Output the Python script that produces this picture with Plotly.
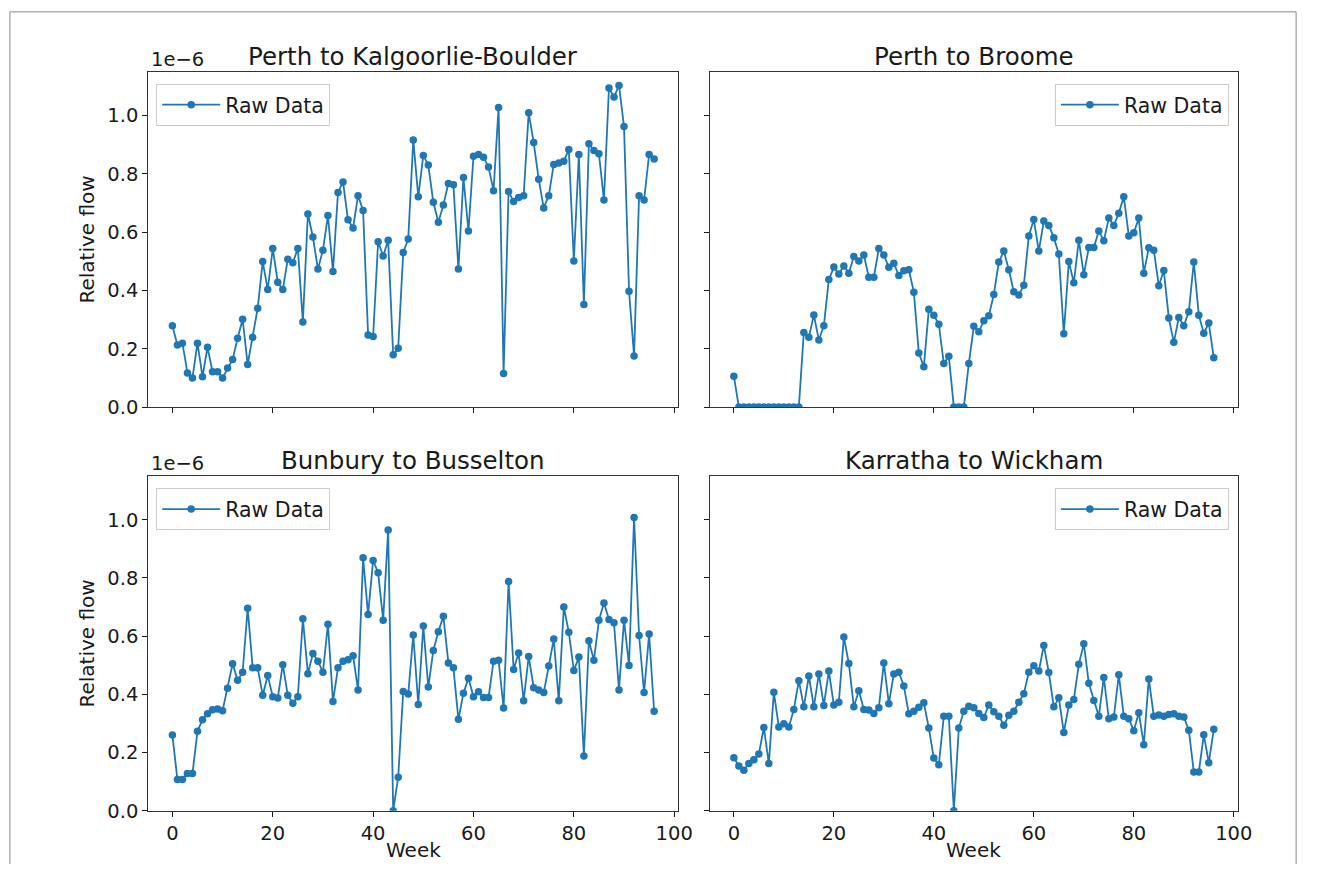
import plotly.graph_objects as go

# Weekly relative flow between town pairs (values in units of 1e-6)
weeks = list(range(97))

perth_kalgoorlie = [
    0.279, 0.213, 0.219, 0.117, 0.100, 0.219, 0.104, 0.205, 0.121, 0.121,
    0.100, 0.134, 0.163, 0.236, 0.301, 0.146, 0.239, 0.339, 0.499, 0.403,
    0.544, 0.428, 0.403, 0.507, 0.495, 0.544, 0.292, 0.662, 0.583, 0.473,
    0.538, 0.657, 0.465, 0.736, 0.772, 0.642, 0.614, 0.725, 0.674, 0.247,
    0.242, 0.567, 0.518, 0.572, 0.179, 0.202, 0.530, 0.576, 0.916, 0.721,
    0.863, 0.830, 0.702, 0.634, 0.693, 0.767, 0.762, 0.473, 0.787, 0.604,
    0.860, 0.866, 0.857, 0.823, 0.742, 1.027, 0.115, 0.739, 0.705, 0.719,
    0.725, 1.009, 0.907, 0.781, 0.683, 0.725, 0.832, 0.837, 0.843, 0.883,
    0.501, 0.866, 0.352, 0.903, 0.880, 0.869, 0.710, 1.094, 1.063, 1.103,
    0.962, 0.397, 0.175, 0.725, 0.710, 0.866, 0.851,
]

perth_broome = [
    0.106, 0.0, 0.0, 0.0, 0.0, 0.0, 0.0, 0.0, 0.0, 0.0,
    0.0, 0.0, 0.0, 0.0, 0.256, 0.239, 0.316, 0.230, 0.279, 0.437,
    0.480, 0.456, 0.484, 0.459, 0.516, 0.501, 0.521, 0.445, 0.445, 0.544,
    0.521, 0.479, 0.493, 0.451, 0.467, 0.471, 0.394, 0.185, 0.138, 0.335,
    0.315, 0.284, 0.149, 0.174, 0.0, 0.0, 0.0, 0.149, 0.277, 0.258,
    0.296, 0.313, 0.386, 0.497, 0.535, 0.471, 0.395, 0.384, 0.418, 0.587,
    0.643, 0.535, 0.638, 0.623, 0.581, 0.525, 0.251, 0.499, 0.426, 0.572,
    0.454, 0.547, 0.547, 0.604, 0.570, 0.648, 0.623, 0.665, 0.721, 0.587,
    0.598, 0.648, 0.459, 0.546, 0.538, 0.416, 0.468, 0.305, 0.222, 0.307,
    0.279, 0.327, 0.497, 0.315, 0.253, 0.288, 0.169,
]

bunbury_busselton = [
    0.260, 0.107, 0.107, 0.128, 0.128, 0.273, 0.313, 0.333, 0.347, 0.350,
    0.344, 0.421, 0.505, 0.448, 0.476, 0.696, 0.491, 0.491, 0.397, 0.465,
    0.392, 0.387, 0.502, 0.397, 0.369, 0.392, 0.660, 0.471, 0.540, 0.514,
    0.476, 0.641, 0.375, 0.491, 0.514, 0.519, 0.533, 0.415, 0.869, 0.674,
    0.860, 0.818, 0.655, 0.965, 0.0, 0.115, 0.410, 0.401, 0.604, 0.365,
    0.635, 0.425, 0.551, 0.615, 0.668, 0.508, 0.491, 0.314, 0.404, 0.455,
    0.392, 0.409, 0.389, 0.389, 0.514, 0.517, 0.353, 0.788, 0.485, 0.542,
    0.378, 0.530, 0.423, 0.415, 0.406, 0.497, 0.590, 0.378, 0.700, 0.613,
    0.482, 0.528, 0.188, 0.584, 0.517, 0.655, 0.714, 0.657, 0.646, 0.415,
    0.655, 0.499, 1.008, 0.602, 0.406, 0.607, 0.342,
]

karratha_wickham = [
    0.182, 0.154, 0.139, 0.162, 0.175, 0.195, 0.286, 0.162, 0.407, 0.288,
    0.299, 0.288, 0.348, 0.447, 0.357, 0.463, 0.357, 0.470, 0.362, 0.480,
    0.363, 0.373, 0.597, 0.506, 0.357, 0.412, 0.348, 0.346, 0.334, 0.354,
    0.508, 0.368, 0.470, 0.476, 0.429, 0.333, 0.342, 0.356, 0.371, 0.284,
    0.181, 0.158, 0.325, 0.325, 0.0, 0.284, 0.342, 0.359, 0.354, 0.334,
    0.320, 0.363, 0.340, 0.325, 0.294, 0.328, 0.342, 0.373, 0.402, 0.476,
    0.498, 0.480, 0.568, 0.475, 0.357, 0.388, 0.269, 0.363, 0.382, 0.503,
    0.574, 0.438, 0.379, 0.325, 0.458, 0.316, 0.322, 0.467, 0.325, 0.316,
    0.275, 0.337, 0.227, 0.453, 0.325, 0.329, 0.325, 0.331, 0.333, 0.325,
    0.322, 0.277, 0.133, 0.133, 0.261, 0.165, 0.280,
]

titles = ["Perth to Kalgoorlie-Boulder", "Perth to Broome",
          "Bunbury to Busselton", "Karratha to Wickham"]
series = [perth_kalgoorlie, perth_broome, bunbury_busselton, karratha_wickham]
x_ticks = [0, 20, 40, 60, 80, 100]
y_ticks = [0.0, 0.2, 0.4, 0.6, 0.8, 1.0]

W, H = 1322, 876


def px(x):
    return x / W


def py(y):
    return 1 - y / H


BLUE = "#1f77b4"
TXT = "#1a1a1a"
FONT = "DejaVu Sans"

# panel frames in pixels: (left, right, top, bottom)
frames = [
    (150, 686, 73, 412.7),
    (718, 1252, 73, 412.7),
    (150, 686, 483, 822),
    (718, 1252, 483, 822),
]

fig = go.Figure()
annotations = []

for i, (vals, title, fr) in enumerate(zip(series, titles, frames)):
    n = i + 1
    xa = "xaxis" if n == 1 else f"xaxis{n}"
    ya = "yaxis" if n == 1 else f"yaxis{n}"
    leg = "legend" if n == 1 else f"legend{n}"
    left, right, top, bottom = fr
    is_left = i % 2 == 0
    is_bottom = i >= 2

    fig.add_trace(go.Scatter(
        x=weeks, y=vals, mode="lines+markers", name="Raw Data",
        line=dict(color=BLUE, width=1.8),
        marker=dict(color=BLUE, size=7.5),
        xaxis="x" if n == 1 else f"x{n}",
        yaxis="y" if n == 1 else f"y{n}",
        legend=leg,
    ))

    fig.update_layout({
        xa: dict(
            domain=[px(left), px(right)], range=[-4.8, 100.8],
            anchor="y" if n == 1 else f"y{n}",
            tickvals=x_ticks, showticklabels=is_bottom,
            ticks="outside", ticklen=5, tickwidth=1, tickcolor=TXT,
            showline=True, mirror=True, linecolor="#333", linewidth=1.2,
            showgrid=False, zeroline=False,
            tickfont=dict(family=FONT, size=19.5, color=TXT),
        ),
        ya: dict(
            domain=[py(bottom), py(top)], range=[0, 1.149],
            anchor="x" if n == 1 else f"x{n}",
            tickvals=y_ticks, tickformat=".1f", showticklabels=is_left,
            ticks="outside", ticklen=5, tickwidth=1, tickcolor=TXT,
            showline=True, mirror=True, linecolor="#333", linewidth=1.2,
            showgrid=False, zeroline=False,
            tickfont=dict(family=FONT, size=19.5, color=TXT),
        ),
        leg: dict(
            x=px(left + 8) if is_left else px(right - 9),
            xanchor="left" if is_left else "right",
            y=py(top + 12), yanchor="top",
            bgcolor="rgba(255,255,255,0.85)",
            bordercolor="#cccccc", borderwidth=1,
            font=dict(family=FONT, size=20.5, color=TXT),
            itemwidth=58,
        ),
    })

    annotations.append(dict(
        text=title, x=px((left + right) / 2), y=py(top - 16),
        xref="paper", yref="paper", showarrow=False,
        xanchor="center", yanchor="middle",
        font=dict(family=FONT, size=24.5, color=TXT),
    ))
    if is_left:
        annotations.append(dict(
            text="1e\u22126", x=px(left + 1), y=py(top - 13),
            xref="paper", yref="paper", showarrow=False,
            xanchor="left", yanchor="middle",
            font=dict(family=FONT, size=19.5, color=TXT),
        ))
        annotations.append(dict(
            text="Relative flow", x=px(88), y=py((top + bottom) / 2),
            xref="paper", yref="paper", showarrow=False, textangle=-90,
            xanchor="center", yanchor="middle",
            font=dict(family=FONT, size=20, color=TXT),
        ))
    if is_bottom:
        annotations.append(dict(
            text="Week", x=px((left + right) / 2), y=py(862),
            xref="paper", yref="paper", showarrow=False,
            xanchor="center", yanchor="middle",
            font=dict(family=FONT, size=20, color=TXT),
        ))

# thin surrounding border lines of the page
border = dict(color="#8a8a8a", width=1)
shapes = [
    dict(type="line", xref="paper", yref="paper",
         x0=px(10), x1=px(1311), y0=py(12), y1=py(12), line=border),
    dict(type="line", xref="paper", yref="paper",
         x0=px(10), x1=px(10), y0=py(12), y1=0, line=border),
    dict(type="line", xref="paper", yref="paper",
         x0=px(1311), x1=px(1311), y0=py(12), y1=0, line=border),
]

fig.update_layout(
    width=W, height=H,
    margin=dict(l=0, r=0, t=0, b=0),
    paper_bgcolor="white", plot_bgcolor="white",
    showlegend=True,
    annotations=annotations,
    shapes=shapes,
    font=dict(family=FONT, color=TXT),
)

fig.write_html("out.html")
